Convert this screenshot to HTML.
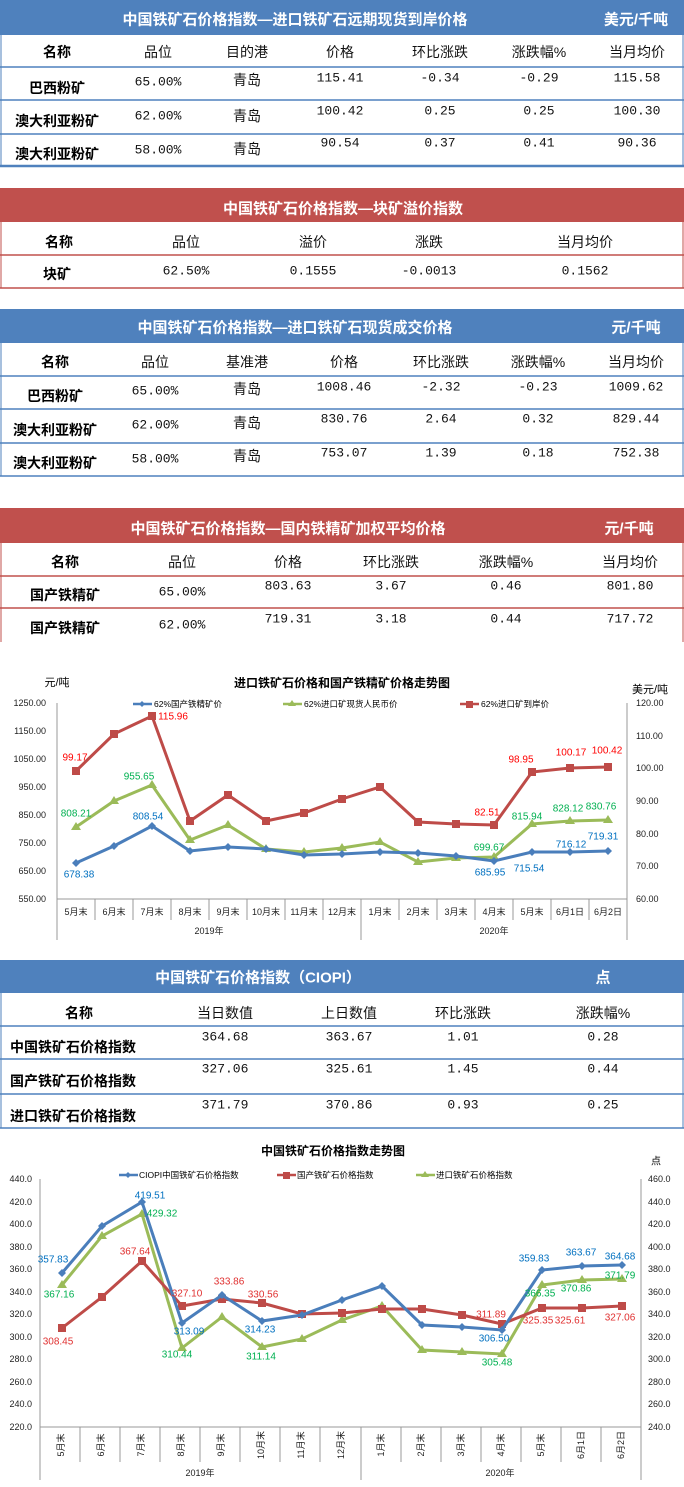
<!DOCTYPE html>
<html><head><meta charset="utf-8"><style>
body{margin:0;background:#fff}
svg{display:block;font-family:"Liberation Sans","Noto Sans CJK SC",sans-serif}
.h{fill:#fff;font-weight:bold;font-size:15px}
.c{font-size:14px;fill:#111}
.n{font-size:14px;font-weight:bold;fill:#000}
.v{font-size:13px;fill:#111;font-family:"Liberation Mono","Noto Sans CJK SC",monospace}
.ax{font-size:9px;fill:#222}
.lb{font-size:10px}
</style></head><body>
<svg width="684" height="1487" viewBox="0 0 684 1487" xmlns="http://www.w3.org/2000/svg" dominant-baseline="central" text-anchor="middle">
<!-- Table 1 -->
<rect x="0" y="0" width="684" height="35" fill="#4f81bd"/>
<text class="h" x="295" y="20">中国铁矿石价格指数—进口铁矿石远期现货到岸价格</text>
<text class="h" x="636" y="20">美元/千吨</text>
<g stroke="#4f81bd" fill="none"><line x1="1" y1="35" x2="1" y2="167"/><line x1="683" y1="35" x2="683" y2="167"/>
<line x1="0" y1="67" x2="684" y2="67" stroke-width="1.5"/><line x1="0" y1="100" x2="684" y2="100" stroke-width="1.5"/><line x1="0" y1="134" x2="684" y2="134" stroke-width="1.5"/><line x1="0" y1="166" x2="684" y2="166" stroke-width="2.5"/></g>
<g class="c"><text x="57" y="52" class="n">名称</text><text x="158" y="52">品位</text><text x="247" y="52">目的港</text><text x="340" y="52">价格</text><text x="440" y="52">环比涨跌</text><text x="539" y="52">涨跌幅%</text><text x="637" y="52">当月均价</text></g>
<text class="n" x="57" y="88">巴西粉矿</text><text class="n" x="57" y="121">澳大利亚粉矿</text><text class="n" x="57" y="154">澳大利亚粉矿</text>
<g class="v"><text x="158" y="82">65.00%</text><text x="247" y="82" class="c">青岛</text><text x="340" y="78">115.41</text><text x="440" y="78">-0.34</text><text x="539" y="78">-0.29</text><text x="637" y="78">115.58</text>
<text x="158" y="116">62.00%</text><text x="247" y="118" class="c">青岛</text><text x="340" y="111">100.42</text><text x="440" y="111">0.25</text><text x="539" y="111">0.25</text><text x="637" y="111">100.30</text>
<text x="158" y="150">58.00%</text><text x="247" y="151" class="c">青岛</text><text x="340" y="143">90.54</text><text x="440" y="143">0.37</text><text x="539" y="143">0.41</text><text x="637" y="143">90.36</text></g>
<!-- Table 2 -->
<rect x="0" y="188" width="684" height="34" fill="#c0504d"/>
<text class="h" x="343" y="209">中国铁矿石价格指数—块矿溢价指数</text>
<g stroke="#c0504d" fill="none"><line x1="1" y1="222" x2="1" y2="288"/><line x1="683" y1="222" x2="683" y2="288"/><line x1="0" y1="255" x2="684" y2="255" stroke-width="1.5"/><line x1="0" y1="288" x2="684" y2="288" stroke-width="1.5"/></g>
<g class="c"><text class="n" x="59" y="242">名称</text><text x="186" y="242">品位</text><text x="313" y="242">溢价</text><text x="429" y="242">涨跌</text><text x="585" y="242">当月均价</text></g>
<text class="n" x="57" y="274">块矿</text>
<g class="v"><text x="186" y="271">62.50%</text><text x="313" y="271">0.1555</text><text x="429" y="271">-0.0013</text><text x="585" y="271">0.1562</text></g>
<!-- Table 3 -->
<rect x="0" y="309" width="684" height="34" fill="#4f81bd"/>
<text class="h" x="295" y="328">中国铁矿石价格指数—进口铁矿石现货成交价格</text>
<text class="h" x="636" y="328">元/千吨</text>
<g stroke="#4f81bd" fill="none"><line x1="1" y1="343" x2="1" y2="476"/><line x1="683" y1="343" x2="683" y2="476"/><line x1="0" y1="376" x2="684" y2="376" stroke-width="1.5"/><line x1="0" y1="409" x2="684" y2="409" stroke-width="1.5"/><line x1="0" y1="443" x2="684" y2="443" stroke-width="1.5"/><line x1="0" y1="476" x2="684" y2="476" stroke-width="1.5"/></g>
<g class="c"><text class="n" x="55" y="362">名称</text><text x="155" y="362">品位</text><text x="247" y="362">基准港</text><text x="344" y="362">价格</text><text x="441" y="362">环比涨跌</text><text x="538" y="362">涨跌幅%</text><text x="636" y="362">当月均价</text></g>
<text class="n" x="55" y="396">巴西粉矿</text><text class="n" x="55" y="430">澳大利亚粉矿</text><text class="n" x="55" y="463">澳大利亚粉矿</text>
<g class="v"><text x="155" y="391">65.00%</text><text x="247" y="391" class="c">青岛</text><text x="344" y="387">1008.46</text><text x="441" y="387">-2.32</text><text x="538" y="387">-0.23</text><text x="636" y="387">1009.62</text>
<text x="155" y="425">62.00%</text><text x="247" y="425" class="c">青岛</text><text x="344" y="419">830.76</text><text x="441" y="419">2.64</text><text x="538" y="419">0.32</text><text x="636" y="419">829.44</text>
<text x="155" y="459">58.00%</text><text x="247" y="458" class="c">青岛</text><text x="344" y="453">753.07</text><text x="441" y="453">1.39</text><text x="538" y="453">0.18</text><text x="636" y="453">752.38</text></g>
<!-- Table 4 -->
<rect x="0" y="508" width="684" height="35" fill="#c0504d"/>
<text class="h" x="288" y="529">中国铁矿石价格指数—国内铁精矿加权平均价格</text>
<text class="h" x="629" y="529">元/千吨</text>
<g stroke="#c0504d" fill="none"><line x1="1" y1="543" x2="1" y2="642"/><line x1="683" y1="543" x2="683" y2="642"/><line x1="0" y1="576" x2="684" y2="576" stroke-width="1.5"/><line x1="0" y1="608" x2="684" y2="608" stroke-width="1.5"/></g>
<g class="c"><text class="n" x="65" y="562">名称</text><text x="182" y="562">品位</text><text x="288" y="562">价格</text><text x="391" y="562">环比涨跌</text><text x="506" y="562">涨跌幅%</text><text x="630" y="562">当月均价</text></g>
<text class="n" x="65" y="595">国产铁精矿</text><text class="n" x="65" y="628">国产铁精矿</text>
<g class="v"><text x="182" y="592">65.00%</text><text x="288" y="586">803.63</text><text x="391" y="586">3.67</text><text x="506" y="586">0.46</text><text x="630" y="586">801.80</text>
<text x="182" y="625">62.00%</text><text x="288" y="619">719.31</text><text x="391" y="619">3.18</text><text x="506" y="619">0.44</text><text x="630" y="619">717.72</text></g>

<!-- Chart 1 -->
<text x="342" y="683" font-size="12" font-weight="bold">进口铁矿石价格和国产铁精矿价格走势图</text>
<text x="57" y="683" font-size="11">元/吨</text>
<text x="650" y="690" font-size="11">美元/吨</text>
<g stroke="#999" fill="none"><line x1="57" y1="703" x2="57" y2="940"/><line x1="627" y1="703" x2="627" y2="940"/><line x1="57" y1="899" x2="627" y2="899"/></g>
<g class="ax" text-anchor="end"><text x="46" y="703">1250.00</text><text x="46" y="731">1150.00</text><text x="46" y="759">1050.00</text><text x="46" y="787">950.00</text><text x="46" y="815">850.00</text><text x="46" y="843">750.00</text><text x="46" y="871">650.00</text><text x="46" y="899">550.00</text></g>
<g class="ax" text-anchor="start"><text x="636" y="703">120.00</text><text x="636" y="736">110.00</text><text x="636" y="768">100.00</text><text x="636" y="801">90.00</text><text x="636" y="834">80.00</text><text x="636" y="866">70.00</text><text x="636" y="899">60.00</text></g>
<g stroke="#999"><line x1="95" y1="899" x2="95" y2="920"/><line x1="133" y1="899" x2="133" y2="920"/><line x1="171" y1="899" x2="171" y2="920"/><line x1="209" y1="899" x2="209" y2="920"/><line x1="247" y1="899" x2="247" y2="920"/><line x1="285" y1="899" x2="285" y2="920"/><line x1="323" y1="899" x2="323" y2="920"/><line x1="361" y1="899" x2="361" y2="940"/><line x1="399" y1="899" x2="399" y2="920"/><line x1="437" y1="899" x2="437" y2="920"/><line x1="475" y1="899" x2="475" y2="920"/><line x1="513" y1="899" x2="513" y2="920"/><line x1="551" y1="899" x2="551" y2="920"/><line x1="589" y1="899" x2="589" y2="920"/></g>
<g class="ax"><text x="76" y="912">5月末</text><text x="114" y="912">6月末</text><text x="152" y="912">7月末</text><text x="190" y="912">8月末</text><text x="228" y="912">9月末</text><text x="266" y="912">10月末</text><text x="304" y="912">11月末</text><text x="342" y="912">12月末</text><text x="380" y="912">1月末</text><text x="418" y="912">2月末</text><text x="456" y="912">3月末</text><text x="494" y="912">4月末</text><text x="532" y="912">5月末</text><text x="570" y="912">6月1日</text><text x="608" y="912">6月2日</text>
<text x="209" y="931">2019年</text><text x="494" y="931">2020年</text></g>
<!-- legend -->
<line x1="133" y1="704" x2="152" y2="704" stroke="#4a7ebb" stroke-width="2.5"/><path d="M142 701l3 3-3 3-3-3z" fill="#4a7ebb"/><text x="154" y="704" font-size="8.5" text-anchor="start">62%国产铁精矿价</text>
<line x1="283" y1="704" x2="302" y2="704" stroke="#9bbb59" stroke-width="2.5"/><path d="M292 700l4 6h-8z" fill="#9bbb59"/><text x="304" y="704" font-size="8.5" text-anchor="start">62%进口矿现货人民币价</text>
<line x1="460" y1="704" x2="479" y2="704" stroke="#be4b48" stroke-width="2.5"/><rect x="466" y="701" width="7" height="7" fill="#be4b48"/><text x="481" y="704" font-size="8.5" text-anchor="start">62%进口矿到岸价</text>
<!-- series -->
<polyline fill="none" stroke="#be4b48" stroke-width="3" points="76,771 114,734 152,716 190,821 228,795 266,821 304,813 342,799 380,787 418,822 456,824 494,825 532,772 570,768 608,767"/>
<g fill="#be4b48"><rect x="72" y="767" width="8" height="8"/><rect x="110" y="730" width="8" height="8"/><rect x="148" y="712" width="8" height="8"/><rect x="186" y="817" width="8" height="8"/><rect x="224" y="791" width="8" height="8"/><rect x="262" y="817" width="8" height="8"/><rect x="300" y="809" width="8" height="8"/><rect x="338" y="795" width="8" height="8"/><rect x="376" y="783" width="8" height="8"/><rect x="414" y="818" width="8" height="8"/><rect x="452" y="820" width="8" height="8"/><rect x="490" y="821" width="8" height="8"/><rect x="528" y="768" width="8" height="8"/><rect x="566" y="764" width="8" height="8"/><rect x="604" y="763" width="8" height="8"/></g>
<polyline fill="none" stroke="#9bbb59" stroke-width="3" points="76,827 114,801 152,785 190,840 228,825 266,849 304,852 342,848 380,842 418,862 456,858 494,857 532,824 570,821 608,820"/>
<g fill="#9bbb59"><path d="M76 822l5 8h-10zM114 796l5 8h-10zM152 780l5 8h-10zM190 835l5 8h-10zM228 820l5 8h-10zM266 844l5 8h-10zM304 847l5 8h-10zM342 843l5 8h-10zM380 837l5 8h-10zM418 857l5 8h-10zM456 853l5 8h-10zM494 852l5 8h-10zM532 819l5 8h-10zM570 816l5 8h-10zM608 815l5 8h-10z"/></g>
<polyline fill="none" stroke="#4a7ebb" stroke-width="3" points="76,863 114,846 152,826 190,851 228,847 266,849 304,855 342,854 380,852 418,853 456,856 494,861 532,852 570,852 608,851"/>
<g fill="#4a7ebb"><path d="M76 859l4 4-4 4-4-4zM114 842l4 4-4 4-4-4zM152 822l4 4-4 4-4-4zM190 847l4 4-4 4-4-4zM228 843l4 4-4 4-4-4zM266 845l4 4-4 4-4-4zM304 851l4 4-4 4-4-4zM342 850l4 4-4 4-4-4zM380 848l4 4-4 4-4-4zM418 849l4 4-4 4-4-4zM456 852l4 4-4 4-4-4zM494 857l4 4-4 4-4-4zM532 848l4 4-4 4-4-4zM570 848l4 4-4 4-4-4zM608 847l4 4-4 4-4-4z"/></g>
<g class="lb" fill="#ff0000"><text x="75" y="758">99.17</text><text x="173" y="717">115.96</text><text x="487" y="813">82.51</text><text x="521" y="760">98.95</text><text x="571" y="753">100.17</text><text x="607" y="751">100.42</text></g>
<g class="lb" fill="#00b050"><text x="76" y="814">808.21</text><text x="139" y="777">955.65</text><text x="489" y="848">699.67</text><text x="527" y="817">815.94</text><text x="568" y="809">828.12</text><text x="601" y="807">830.76</text></g>
<g class="lb" fill="#0070c0"><text x="79" y="875">678.38</text><text x="148" y="817">808.54</text><text x="490" y="873">685.95</text><text x="529" y="869">715.54</text><text x="571" y="845">716.12</text><text x="603" y="837">719.31</text></g>

<!-- Table 5 -->
<rect x="0" y="960" width="684" height="33" fill="#4f81bd"/>
<text class="h" x="258" y="978">中国铁矿石价格指数（CIOPI）</text>
<text class="h" x="603" y="978">点</text>
<g stroke="#4f81bd" fill="none"><line x1="1" y1="993" x2="1" y2="1128"/><line x1="683" y1="993" x2="683" y2="1128"/><line x1="0" y1="1026" x2="684" y2="1026" stroke-width="1.5"/><line x1="0" y1="1059" x2="684" y2="1059" stroke-width="1.5"/><line x1="0" y1="1094" x2="684" y2="1094" stroke-width="1.5"/><line x1="0" y1="1128" x2="684" y2="1128" stroke-width="1.5"/></g>
<g class="c"><text class="n" x="79" y="1013">名称</text><text x="225" y="1013">当日数值</text><text x="349" y="1013">上日数值</text><text x="463" y="1013">环比涨跌</text><text x="603" y="1013">涨跌幅%</text></g>
<g class="n" text-anchor="start"><text x="10" y="1047">中国铁矿石价格指数</text><text x="10" y="1081">国产铁矿石价格指数</text><text x="10" y="1116">进口铁矿石价格指数</text></g>
<g class="v"><text x="225" y="1037">364.68</text><text x="349" y="1037">363.67</text><text x="463" y="1037">1.01</text><text x="603" y="1037">0.28</text>
<text x="225" y="1069">327.06</text><text x="349" y="1069">325.61</text><text x="463" y="1069">1.45</text><text x="603" y="1069">0.44</text>
<text x="225" y="1105">371.79</text><text x="349" y="1105">370.86</text><text x="463" y="1105">0.93</text><text x="603" y="1105">0.25</text></g>

<!-- Chart 2 -->
<text x="333" y="1151" font-size="12" font-weight="bold">中国铁矿石价格指数走势图</text>
<text x="656" y="1162" font-size="10">点</text>
<g stroke="#999" fill="none"><line x1="40" y1="1179" x2="40" y2="1480"/><line x1="641" y1="1179" x2="641" y2="1480"/><line x1="40" y1="1427" x2="641" y2="1427"/></g>
<g class="ax" text-anchor="end"><text x="32" y="1179">440.0</text><text x="32" y="1202">420.0</text><text x="32" y="1224">400.0</text><text x="32" y="1247">380.0</text><text x="32" y="1269">360.0</text><text x="32" y="1292">340.0</text><text x="32" y="1314">320.0</text><text x="32" y="1337">300.0</text><text x="32" y="1359">280.0</text><text x="32" y="1382">260.0</text><text x="32" y="1404">240.0</text><text x="32" y="1427">220.0</text></g>
<g class="ax" text-anchor="start"><text x="648" y="1179">460.0</text><text x="648" y="1202">440.0</text><text x="648" y="1224">420.0</text><text x="648" y="1247">400.0</text><text x="648" y="1269">380.0</text><text x="648" y="1292">360.0</text><text x="648" y="1314">340.0</text><text x="648" y="1337">320.0</text><text x="648" y="1359">300.0</text><text x="648" y="1382">280.0</text><text x="648" y="1404">260.0</text><text x="648" y="1427">240.0</text></g>
<g stroke="#999"><line x1="80" y1="1427" x2="80" y2="1462"/><line x1="120" y1="1427" x2="120" y2="1462"/><line x1="160" y1="1427" x2="160" y2="1462"/><line x1="200" y1="1427" x2="200" y2="1462"/><line x1="240" y1="1427" x2="240" y2="1462"/><line x1="280" y1="1427" x2="280" y2="1462"/><line x1="320" y1="1427" x2="320" y2="1462"/><line x1="361" y1="1427" x2="361" y2="1480"/><line x1="401" y1="1427" x2="401" y2="1462"/><line x1="441" y1="1427" x2="441" y2="1462"/><line x1="481" y1="1427" x2="481" y2="1462"/><line x1="521" y1="1427" x2="521" y2="1462"/><line x1="561" y1="1427" x2="561" y2="1462"/><line x1="601" y1="1427" x2="601" y2="1462"/></g>
<g class="ax" text-anchor="middle" font-size="8">
<text transform="translate(61,1445) rotate(-90)">5月末</text><text transform="translate(101,1445) rotate(-90)">6月末</text><text transform="translate(141,1445) rotate(-90)">7月末</text><text transform="translate(181,1445) rotate(-90)">8月末</text><text transform="translate(221,1445) rotate(-90)">9月末</text><text transform="translate(261,1445) rotate(-90)">10月末</text><text transform="translate(301,1445) rotate(-90)">11月末</text><text transform="translate(341,1445) rotate(-90)">12月末</text><text transform="translate(381,1445) rotate(-90)">1月末</text><text transform="translate(421,1445) rotate(-90)">2月末</text><text transform="translate(461,1445) rotate(-90)">3月末</text><text transform="translate(501,1445) rotate(-90)">4月末</text><text transform="translate(541,1445) rotate(-90)">5月末</text><text transform="translate(581,1445) rotate(-90)">6月1日</text><text transform="translate(621,1445) rotate(-90)">6月2日</text></g>
<g class="ax"><text x="200" y="1473">2019年</text><text x="500" y="1473">2020年</text></g>
<!-- legend 2 -->
<line x1="119" y1="1175" x2="138" y2="1175" stroke="#4a7ebb" stroke-width="2.5"/><path d="M128 1172l3 3-3 3-3-3z" fill="#4a7ebb"/><text x="139" y="1175" font-size="8.5" text-anchor="start">CIOPI中国铁矿石价格指数</text>
<line x1="277" y1="1175" x2="296" y2="1175" stroke="#be4b48" stroke-width="2.5"/><rect x="283" y="1172" width="7" height="7" fill="#be4b48"/><text x="297" y="1175" font-size="8.5" text-anchor="start">国产铁矿石价格指数</text>
<line x1="416" y1="1175" x2="435" y2="1175" stroke="#9bbb59" stroke-width="2.5"/><path d="M425 1171l4 6h-8z" fill="#9bbb59"/><text x="436" y="1175" font-size="8.5" text-anchor="start">进口铁矿石价格指数</text>
<!-- series 2 -->
<polyline fill="none" stroke="#9bbb59" stroke-width="3" points="62,1285 102,1236 142,1214 182,1348 222,1317 262,1347 302,1339 342,1320 382,1306 422,1350 462,1352 502,1354 542,1285 582,1280 622,1279"/>
<g fill="#9bbb59"><path d="M62 1280l5 8h-10zM102 1231l5 8h-10zM142 1209l5 8h-10zM182 1343l5 8h-10zM222 1312l5 8h-10zM262 1342l5 8h-10zM302 1334l5 8h-10zM342 1315l5 8h-10zM382 1301l5 8h-10zM422 1345l5 8h-10zM462 1347l5 8h-10zM502 1349l5 8h-10zM542 1280l5 8h-10zM582 1275l5 8h-10zM622 1274l5 8h-10z"/></g>
<polyline fill="none" stroke="#be4b48" stroke-width="3" points="62,1328 102,1297 142,1261 182,1306 222,1299 262,1303 302,1314 342,1313 382,1309 422,1309 462,1315 502,1324 542,1308 582,1308 622,1306"/>
<g fill="#be4b48"><rect x="58" y="1324" width="8" height="8"/><rect x="98" y="1293" width="8" height="8"/><rect x="138" y="1257" width="8" height="8"/><rect x="178" y="1302" width="8" height="8"/><rect x="218" y="1295" width="8" height="8"/><rect x="258" y="1299" width="8" height="8"/><rect x="298" y="1310" width="8" height="8"/><rect x="338" y="1309" width="8" height="8"/><rect x="378" y="1305" width="8" height="8"/><rect x="418" y="1305" width="8" height="8"/><rect x="458" y="1311" width="8" height="8"/><rect x="498" y="1320" width="8" height="8"/><rect x="538" y="1304" width="8" height="8"/><rect x="578" y="1304" width="8" height="8"/><rect x="618" y="1302" width="8" height="8"/></g>
<polyline fill="none" stroke="#4a7ebb" stroke-width="3" points="62,1273 102,1226 142,1202 182,1323 222,1295 262,1321 302,1315 342,1300 382,1286 422,1325 462,1327 502,1330 542,1270 582,1266 622,1265"/>
<g fill="#4a7ebb"><path d="M62 1269l4 4-4 4-4-4zM102 1222l4 4-4 4-4-4zM142 1198l4 4-4 4-4-4zM182 1319l4 4-4 4-4-4zM222 1291l4 4-4 4-4-4zM262 1317l4 4-4 4-4-4zM302 1311l4 4-4 4-4-4zM342 1296l4 4-4 4-4-4zM382 1282l4 4-4 4-4-4zM422 1321l4 4-4 4-4-4zM462 1323l4 4-4 4-4-4zM502 1326l4 4-4 4-4-4zM542 1266l4 4-4 4-4-4zM582 1262l4 4-4 4-4-4zM622 1261l4 4-4 4-4-4z"/></g>
<g class="lb" fill="#0070c0" font-size="9.5"><text x="53" y="1260">357.83</text><text x="150" y="1196">419.51</text><text x="189" y="1332">313.09</text><text x="260" y="1330">314.23</text><text x="494" y="1339">306.50</text><text x="534" y="1259">359.83</text><text x="581" y="1253">363.67</text><text x="620" y="1257">364.68</text></g>
<g class="lb" fill="#e03030" font-size="9.5"><text x="58" y="1342">308.45</text><text x="135" y="1252">367.64</text><text x="187" y="1294">327.10</text><text x="229" y="1282">333.86</text><text x="263" y="1295">330.56</text><text x="491" y="1315">311.89</text><text x="538" y="1321">325.35</text><text x="570" y="1321">325.61</text><text x="620" y="1318">327.06</text></g>
<g class="lb" fill="#00b050" font-size="9.5"><text x="59" y="1295">367.16</text><text x="162" y="1214">429.32</text><text x="177" y="1355">310.44</text><text x="261" y="1357">311.14</text><text x="497" y="1363">305.48</text><text x="540" y="1294">366.35</text><text x="576" y="1289">370.86</text><text x="620" y="1276">371.79</text></g>
</svg>
</body></html>
